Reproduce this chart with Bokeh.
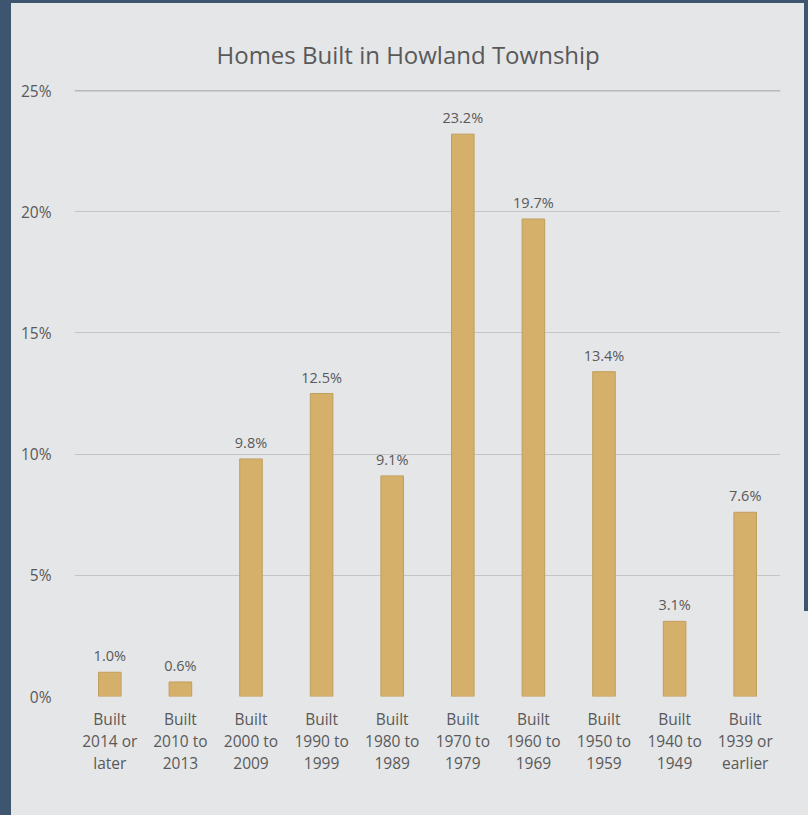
from bokeh.plotting import figure
from bokeh.models import ColumnDataSource, FactorRange, Range1d, Span, FixedTicker, Title
from bokeh.layouts import column
from bokeh.embed import file_html
from bokeh.resources import INLINE
from bokeh.core.properties import value

categories = ["Built\n2014 or\nlater", "Built\n2010 to\n2013", "Built\n2000 to\n2009",
              "Built\n1990 to\n1999", "Built\n1980 to\n1989", "Built\n1970 to\n1979",
              "Built\n1960 to\n1969", "Built\n1950 to\n1959", "Built\n1940 to\n1949",
              "Built\n1939 or\nearlier"]
shares = [1.0, 0.6, 9.8, 12.5, 9.1, 23.2, 19.7, 13.4, 3.1, 7.6]
y_ticks = [0, 5, 10, 15, 20, 25]

FONT = "Open Sans"
TEXT = "#595959"
DARK = "#3e5570"
PANEL = "#e5e6e8"

src = ColumnDataSource(dict(cat=categories, val=shares,
                            lab=[f"{v:.1f}%" for v in shares]))

p = figure(width=793, height=812, x_range=FactorRange(*categories, range_padding=0),
           y_range=Range1d(0, 25), output_backend="svg", toolbar_location=None,
           min_border_left=63, min_border_right=24, min_border_top=87, min_border_bottom=119)
p.margin = (3, 4, 0, 11)
p.background_fill_color = PANEL
p.border_fill_color = PANEL
p.outline_line_color = None

p.vbar(x="cat", top="val", width=0.32, source=src, fill_color="#d5b06a",
       line_color="#c19f5e", line_width=1)
p.text(x="cat", y="val", text="lab", source=src, text_align="center",
       text_baseline="bottom", y_offset=-7, text_font=value(FONT),
       text_font_size="14.5px", text_color=TEXT)

p.xgrid.grid_line_color = None
p.ygrid.grid_line_color = "#c4c4c4"
p.ygrid.grid_line_width = 1
p.ygrid.ticker = FixedTicker(ticks=y_ticks)
p.add_layout(Span(location=25, dimension="width", line_color="#8c8c8c", line_width=1.3))

p.yaxis.ticker = FixedTicker(ticks=y_ticks)
p.yaxis.major_label_overrides = {t: f"{t}%" for t in y_ticks}
p.yaxis.axis_line_color = None
p.yaxis.major_tick_line_color = None
p.yaxis.minor_tick_line_color = None
p.yaxis.major_label_standoff = 17
p.yaxis.major_label_text_font = FONT
p.yaxis.major_label_text_font_size = "15.5px"
p.yaxis.major_label_text_color = TEXT

p.xaxis.axis_line_color = None
p.xaxis.major_tick_line_color = None
p.xaxis.major_label_standoff = 5
p.xaxis.major_label_text_font = FONT
p.xaxis.major_label_text_font_size = "15.5px"
p.xaxis.major_label_text_color = TEXT
p.xaxis.major_label_text_line_height = 1.0

title = Title(text="Homes Built in Howland Township", align="left", offset=142,
              text_font=FONT, text_font_size="24px", text_font_style="normal",
              text_color=TEXT, standoff=39)
p.add_layout(title, "above")

page = column(p, styles={
    "background": (f"linear-gradient(to right, {DARK} 0px, {DARK} 11px, transparent 11px), "
                   f"linear-gradient(to bottom, {DARK} 0px, {DARK} 3px, transparent 3px), "
                   f"linear-gradient(to bottom, {DARK} 0px, {DARK} 611px, transparent 611px) "
                   f"right top / 4px 100% no-repeat, {PANEL}")
})

open("out.html", "w").write(file_html(page, INLINE))
